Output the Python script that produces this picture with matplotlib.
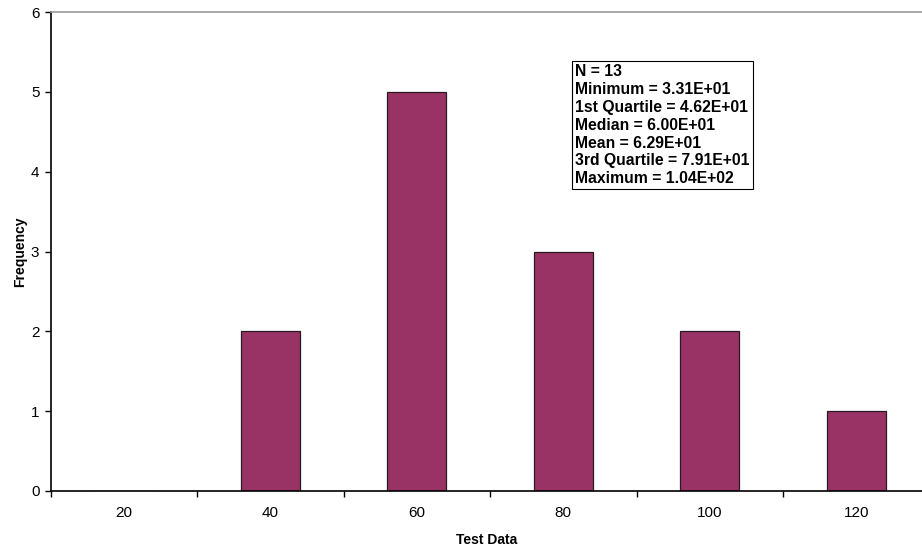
import numpy as np
import matplotlib.pyplot as plt

plt.rcParams['font.family'] = ['Liberation Sans', 'DejaVu Sans']

bins = ['20', '40', '60', '80', '100', '120']
counts = [0, 2, 5, 3, 2, 1]
stats_lines = ['N = 13',
               'Minimum = 3.31E+01',
               '1st Quartile = 4.62E+01',
               'Median = 6.00E+01',
               'Mean = 6.29E+01',
               '3rd Quartile = 7.91E+01',
               'Maximum = 1.04E+02']

W, H = 922, 548
fig = plt.figure(figsize=(W / 100, H / 100), dpi=100)
# axes box in pixels: left 50.5, right 922, top 12, bottom 491
ax = fig.add_axes([50.5 / W, (H - 491) / H, (922 - 50.5) / W, (491 - 12) / H])

x = np.arange(len(bins))
ax.bar(x, counts, width=0.4, color='#993366', edgecolor='#2b1a22', linewidth=0.9, zorder=2)

ax.set_yticks(np.arange(0, 7, 1))
ax.set_xticks(np.arange(-0.5, len(bins), 1.0))
ax.set_xticklabels([])
ax.set_xticks(x, minor=True)
ax.set_xticklabels(bins, minor=True)
ax.set_xlim(-0.5, (922 - 50.5) / 146.5 - 0.5)
ax.set_ylim(0, 6)
ax.tick_params(axis='x', which='minor', length=0, pad=11, labelsize=11)
ax.tick_params(axis='x', which='major', length=4, width=1, direction='out', color='black')
ax.tick_params(axis='y', length=4, width=1, direction='out', labelsize=11, pad=4)

ax.spines['right'].set_visible(False)
ax.spines['top'].set_color('#9a9a9a')
ax.spines['top'].set_linewidth(1.2)
ax.spines['left'].set_color('black')
ax.spines['bottom'].set_color('black')
ax.spines['left'].set_linewidth(1.2)
ax.spines['bottom'].set_linewidth(1.2)

ax.set_xlabel('Test Data', fontsize=10, fontweight='bold', labelpad=9)
ax.set_ylabel('Frequency', fontsize=10, fontweight='bold', labelpad=3)

ax.text((575 - 50.5) / (922 - 50.5), (491 - 64) / (491 - 12), '\n'.join(stats_lines),
        transform=ax.transAxes, ha='left', va='top', fontsize=11.3, fontweight='bold',
        linespacing=1.24,
        bbox=dict(boxstyle='square,pad=0.2', facecolor='white', edgecolor='black', linewidth=0.8))

fig.savefig('out.png', dpi=100)
